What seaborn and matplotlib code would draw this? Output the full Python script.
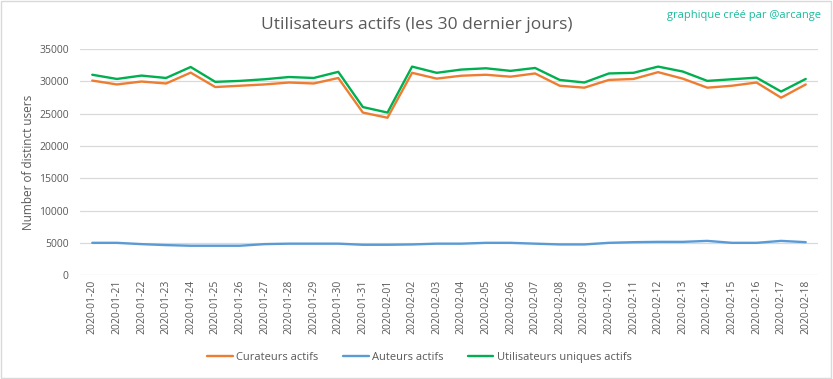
import pandas as pd
import matplotlib.pyplot as plt
import seaborn as sns
from matplotlib.patches import Rectangle

# Daily values
dates = ['2020-01-20', '2020-01-21', '2020-01-22', '2020-01-23', '2020-01-24',
         '2020-01-25', '2020-01-26', '2020-01-27', '2020-01-28', '2020-01-29',
         '2020-01-30', '2020-01-31', '2020-02-01', '2020-02-02', '2020-02-03',
         '2020-02-04', '2020-02-05', '2020-02-06', '2020-02-07', '2020-02-08',
         '2020-02-09', '2020-02-10', '2020-02-11', '2020-02-12', '2020-02-13',
         '2020-02-14', '2020-02-15', '2020-02-16', '2020-02-17', '2020-02-18']

curateurs = [30100, 29500, 29950, 29650, 31330, 29100, 29300, 29500, 29800, 29650,
             30500, 25150, 24350, 31300, 30400, 30850, 31000, 30700, 31200, 29300,
             29000, 30200, 30350, 31400, 30400, 29000, 29300, 29800, 27450, 29500]

auteurs = [5000, 5000, 4800, 4650, 4550, 4550, 4550, 4800, 4870, 4870,
           4870, 4700, 4700, 4750, 4870, 4870, 5000, 5000, 4870, 4750,
           4750, 5000, 5100, 5150, 5150, 5300, 5000, 5000, 5300, 5100]

uniques = [31000, 30350, 30870, 30500, 32200, 29900, 30050, 30300, 30650, 30500,
           31450, 26000, 25150, 32260, 31300, 31800, 32000, 31600, 32050, 30200,
           29800, 31200, 31300, 32260, 31500, 30050, 30300, 30550, 28400, 30350]

series_names = ['Curateurs actifs', 'Auteurs actifs', 'Utilisateurs uniques actifs']
series_colors = ['#ED7D31', '#5B9BD5', '#00B050']
y_ticks = [0, 5000, 10000, 15000, 20000, 25000, 30000, 35000]

# Long-form table for seaborn
df = pd.DataFrame({'date': dates,
                   series_names[0]: curateurs,
                   series_names[1]: auteurs,
                   series_names[2]: uniques})
long_df = df.melt(id_vars='date', var_name='serie', value_name='users')

sns.set_style('white')
plt.rcParams['font.family'] = ['Open Sans', 'DejaVu Sans']

fig = plt.figure(figsize=(8.33, 3.79), dpi=100)
ax = fig.add_axes([0.096, 0.274, 0.886, 0.597])

sns.lineplot(data=long_df, x='date', y='users', hue='serie',
             hue_order=series_names, palette=series_colors,
             linewidth=1.7, sort=False, ax=ax)

ax.set_xlim(-0.5, len(dates) - 0.5)
ax.set_ylim(0, 35000)
ax.set_yticks(y_ticks)
ax.set_yticklabels([str(v) for v in y_ticks])
ax.grid(axis='y', color='#d9d9d9', linewidth=0.9)
ax.set_axisbelow(True)
for side in ['top', 'right', 'left', 'bottom']:
    ax.spines[side].set_visible(False)
ax.tick_params(axis='both', length=0, colors='#595959', labelsize=7.5)
ax.tick_params(axis='y', pad=8)
plt.setp(ax.get_xticklabels(), rotation=90)

ax.set_xlabel('')
ax.set_ylabel('Number of distinct users', color='#595959', fontsize=8.5, labelpad=3)

fig.text(0.5, 0.935, 'Utilisateurs actifs (les 30 dernier jours)',
         ha='center', va='center', fontsize=12.5, color='#595959')
fig.text(0.985, 0.958, 'graphique créé par @arcange',
         ha='right', va='center', fontsize=8, color='#1ABC9C')

ax.legend(loc='center', bbox_to_anchor=(0.46, -0.363), ncol=3,
          frameon=False, fontsize=8, handlelength=2.3, handletextpad=0.3,
          columnspacing=2.2, labelcolor='#595959')

# light chart border like the original
fig.patches.append(Rectangle((0.001, 0.002), 0.997, 0.995, transform=fig.transFigure,
                             fill=False, edgecolor='#d9d9d9', linewidth=1))

fig.savefig('out.png', dpi=100)
